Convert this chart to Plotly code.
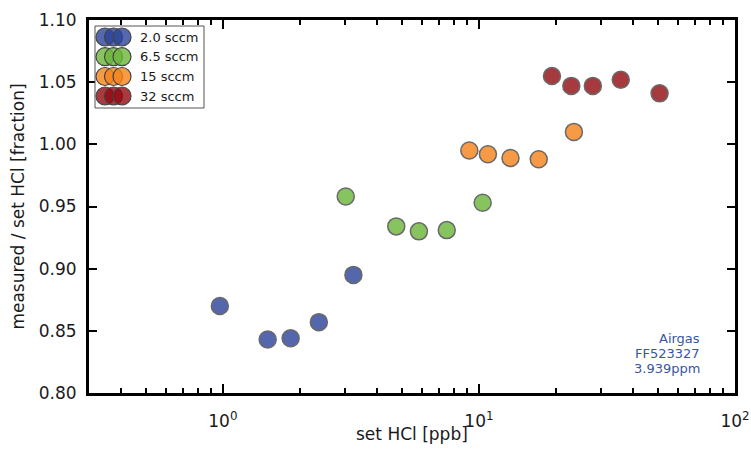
import plotly.graph_objects as go

# Measured/set HCl ratio for each carrier flow setting
flow_labels = ["2.0 sccm", "6.5 sccm", "15 sccm", "32 sccm"]
flow_colors = ["#2a4299", "#6ab538", "#f68219", "#920910"]

set_hcl_2sccm = [0.973, 1.496, 1.839, 2.370, 3.234]
ratio_2sccm = [0.870, 0.843, 0.844, 0.857, 0.895]

set_hcl_6sccm = [3.018, 4.754, 5.828, 7.486, 10.34]
ratio_6sccm = [0.958, 0.934, 0.930, 0.931, 0.953]

set_hcl_15sccm = [9.17, 10.84, 13.28, 17.12, 23.49]
ratio_15sccm = [0.995, 0.992, 0.989, 0.988, 1.010]

set_hcl_32sccm = [19.28, 22.95, 27.85, 35.79, 50.75]
ratio_32sccm = [1.055, 1.047, 1.047, 1.052, 1.041]

x_series = [set_hcl_2sccm, set_hcl_6sccm, set_hcl_15sccm, set_hcl_32sccm]
y_series = [ratio_2sccm, ratio_6sccm, ratio_15sccm, ratio_32sccm]

x_tick_vals = [1, 10, 100]
x_tick_text = ["10<sup>0</sup>", "10<sup>1</sup>", "10<sup>2</sup>"]
x_minor_vals = [0.3, 0.4, 0.5, 0.6, 0.7, 0.8, 0.9,
                2, 3, 4, 5, 6, 7, 8, 9,
                20, 30, 40, 50, 60, 70, 80, 90]
y_tick_vals = [0.80, 0.85, 0.90, 0.95, 1.00, 1.05, 1.10]

x_title = "set HCl [ppb]"
y_title = "measured / set HCl [fraction]"
source_lines = ["Airgas", "FF523327", "3.939ppm"]

W, H = 751, 449
ML, MR, MT, MB = 89, 16, 20, 56
PW, PH = W - ML - MR, H - MT - MB
FONT = "DejaVu Sans"
TEXT = "#1a1a1a"
ALPHA = 0.8


def px_x(px):
    return (px - ML) / PW


def px_y(py):
    return (H - MB - py) / PH


def rgba(hex_color, a):
    h = hex_color.lstrip("#")
    r, g, b = int(h[0:2], 16), int(h[2:4], 16), int(h[4:6], 16)
    return f"rgba({r},{g},{b},{a})"


fig = go.Figure()

for label, color, xs, ys in zip(flow_labels, flow_colors, x_series, y_series):
    fig.add_trace(go.Scatter(
        x=xs, y=ys, mode="markers", name=label, showlegend=False,
        marker=dict(size=17, color=color, opacity=ALPHA,
                    line=dict(color="#444444", width=1.5)),
    ))

# Hand-built legend box with three overlapping glyphs per entry
shapes = [dict(type="rect", xref="paper", yref="paper",
               x0=px_x(95), x1=px_x(204), y0=px_y(108), y1=px_y(26),
               line=dict(color="#555555", width=1), fillcolor="white",
               layer="above")]
annotations = []
row_y = [37, 56.7, 76.5, 96]
glyph_x = [105, 113.5, 122]
r = 9
for label, color, cy in zip(flow_labels, flow_colors, row_y):
    for cx in glyph_x:
        shapes.append(dict(type="circle", xref="paper", yref="paper",
                           x0=px_x(cx - r), x1=px_x(cx + r),
                           y0=px_y(cy + r), y1=px_y(cy - r),
                           fillcolor=rgba(color, ALPHA),
                           line=dict(color="#444444", width=1.2),
                           layer="above"))
    annotations.append(dict(xref="paper", yref="paper", x=px_x(138), y=px_y(cy),
                            text=label, showarrow=False, xanchor="left",
                            yanchor="middle",
                            font=dict(family=FONT, size=13, color=TEXT)))

for line, py in zip(source_lines, [338, 353, 368]):
    annotations.append(dict(xref="paper", yref="paper", x=px_x(702), y=px_y(py),
                            text=line, showarrow=False, xanchor="right",
                            yanchor="middle",
                            font=dict(family=FONT, size=13, color="#3a55a2")))

# x-axis title placed directly below the tick labels
annotations.append(dict(xref="paper", yref="paper", x=0.5, y=px_y(434),
                        text=x_title, showarrow=False, xanchor="center",
                        yanchor="middle",
                        font=dict(family=FONT, size=17, color=TEXT)))

axis_common = dict(
    showline=True, linecolor="black", linewidth=3, mirror="ticks",
    ticks="inside", tickcolor="black", tickwidth=1.5,
    showgrid=False, zeroline=False,
    tickfont=dict(family=FONT, size=17, color=TEXT),
)

fig.update_layout(
    width=W, height=H,
    margin=dict(l=ML, r=MR, t=MT, b=MB, autoexpand=False),
    paper_bgcolor="white", plot_bgcolor="white",
    font=dict(family=FONT, color=TEXT),
    shapes=shapes, annotations=annotations,
    xaxis=dict(
        type="log", range=[-0.5229, 2],
        tickmode="array", tickvals=x_tick_vals, ticktext=x_tick_text,
        ticklen=9, ticklabelstandoff=11,
        minor=dict(ticks="inside", tickvals=x_minor_vals, ticklen=5,
                   tickwidth=1.5, tickcolor="black", showgrid=False),
        **axis_common,
    ),
    yaxis=dict(
        range=[0.80, 1.10],
        tickmode="array", tickvals=y_tick_vals, tickformat=".2f",
        ticklen=8, ticklabelstandoff=6,
        title=dict(text=y_title, standoff=10,
                   font=dict(family=FONT, size=17, color=TEXT)),
        **axis_common,
    ),
)

fig.write_html("out.html")
